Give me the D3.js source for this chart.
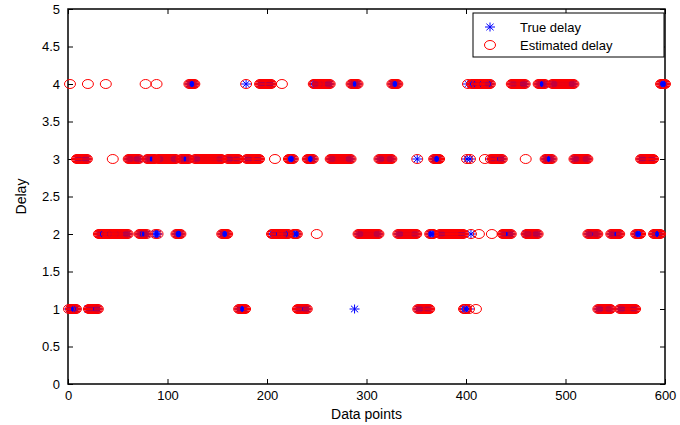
<!DOCTYPE html>
<html>
<head>
<meta charset="utf-8">
<script src="https://cdn.jsdelivr.net/npm/d3@7"></script>
<style>
	body { margin: 0; background: #fff; }
	svg { font-family: "Liberation Sans", Arial, sans-serif; }
</style>
</head>
<body>
<svg id="chart"></svg>
<script>
// true delay: [ first index, last index, delay ]
const trueDelayRuns = [
	[1, 8, 1], [9, 19, 3], [20, 30, 1], [31, 60, 2], [61, 71, 3], [72, 79, 2],
	[80, 87, 3], [88, 90, 2], [91, 108, 3], [109, 113, 2], [114, 121, 3], [122, 127, 4],
	[128, 154, 3], [155, 160, 2], [161, 171, 3], [172, 178, 1], [179, 179, 4], [180, 192, 3],
	[193, 204, 4], [205, 221, 2], [222, 226, 3], [227, 230, 2], [231, 240, 1], [241, 246, 3],
	[247, 263, 4], [264, 284, 3], [285, 287, 4], [288, 288, 1], [289, 291, 4], [292, 312, 2],
	[313, 325, 3], [326, 331, 4], [332, 350, 2], [351, 351, 3], [352, 363, 1], [364, 367, 2],
	[368, 373, 3], [374, 397, 2], [398, 400, 1], [401, 401, 3], [402, 402, 4], [403, 403, 1],
	[404, 404, 3], [405, 405, 2], [406, 424, 4], [425, 436, 3], [437, 445, 2], [446, 459, 4],
	[460, 472, 2], [473, 479, 4], [480, 486, 3], [487, 508, 4], [509, 522, 3], [523, 532, 2],
	[533, 545, 1], [546, 554, 2], [555, 570, 1], [571, 575, 2], [576, 588, 3], [589, 595, 2],
	[596, 600, 4]
] ;

// points where the estimate differs from the true delay: [ index, estimated delay ]
const estimateMisses = [
	[2, 4], [20, 4], [38, 4], [45, 3], [78, 4], [89, 4], [208, 3], [215, 4],
	[250, 2], [288, 4], [410, 1], [413, 2], [419, 3], [426, 2], [460, 3]
] ;

const xTicks = [0, 100, 200, 300, 400, 500, 600] ;
const yTicks = [0, 0.5, 1, 1.5, 2, 2.5, 3, 3.5, 4, 4.5, 5] ;
const legendLabels = ['True delay', 'Estimated delay'] ;

let truePts = [] ;
trueDelayRuns.forEach( r => {
	for( let i = r[0]; i <= r[1]; ++i ) truePts.push( { x: i, y: r[2] } ) ;
} ) ;
let missMap = new Map( estimateMisses ) ;
let estPts = truePts.map( p => ( { x: p.x, y: missMap.has(p.x) ? missMap.get(p.x) : p.y } ) ) ;

const geom = {
	width: 680,
	height: 425,
	margins: { left: 68, right: 15, top: 9, bottom: 41 }
} ;

const x = d3.scaleLinear()
	.domain( [0, 600] )
	.range( [geom.margins.left, geom.width - geom.margins.right] ) ;
const y = d3.scaleLinear()
	.domain( [0, 5] )
	.range( [geom.height - geom.margins.bottom, geom.margins.top] ) ;

const svg = d3.select( '#chart' )
	.attr( 'width', geom.width )
	.attr( 'height', geom.height ) ;

const x0 = x.range()[0], x1 = x.range()[1], y0 = y.range()[0], y1 = y.range()[1] ;

// axes with inward ticks, mirrored on top and right
function styleAxis( g, labels ) {
	g.select( '.domain' ).remove() ;
	g.selectAll( '.tick line' ).attr( 'stroke', '#000' ).attr( 'stroke-width', 1 ) ;
	g.selectAll( 'text' ).attr( 'font-size', 13 ).attr( 'fill', '#000' ) ;
	if( !labels ) g.selectAll( 'text' ).remove() ;
}

svg.append( 'g' )
	.attr( 'transform', 'translate(0 ' + y0 + ')' )
	.call( d3.axisBottom(x).tickValues(xTicks).tickSize(-5).tickPadding(7) )
	.call( g => styleAxis( g, true ) ) ;
svg.append( 'g' )
	.attr( 'transform', 'translate(0 ' + y1 + ')' )
	.call( d3.axisTop(x).tickValues(xTicks).tickSize(-5) )
	.call( g => styleAxis( g, false ) ) ;
svg.append( 'g' )
	.attr( 'transform', 'translate(' + x0 + ' 0)' )
	.call( d3.axisLeft(y).tickValues(yTicks).tickFormat(d3.format('')).tickSize(-5).tickPadding(8) )
	.call( g => styleAxis( g, true ) ) ;
svg.append( 'g' )
	.attr( 'transform', 'translate(' + x1 + ' 0)' )
	.call( d3.axisRight(y).tickValues(yTicks).tickSize(-5) )
	.call( g => styleAxis( g, false ) ) ;

svg.append( 'rect' )
	.attr( 'x', x0 ).attr( 'y', y1 )
	.attr( 'width', x1 - x0 ).attr( 'height', y0 - y1 )
	.attr( 'fill', 'none' ).attr( 'stroke', '#000' ).attr( 'stroke-width', 1.5 ) ;

const star = 'M-5,0H5M0,-4.5V4.5M-3.6,-3.3L3.6,3.3M-3.6,3.3L3.6,-3.3' ;

const plot = svg.append( 'g' ) ;
plot.selectAll( 'path.true' )
	.data( truePts )
	.enter()
	.append( 'path' )
	.attr( 'class', 'true' )
	.attr( 'd', star )
	.attr( 'transform', p => 'translate(' + x(p.x) + ',' + y(p.y) + ')' )
	.attr( 'stroke', '#0000ff' )
	.attr( 'stroke-width', 1 )
	.attr( 'fill', 'none' ) ;

plot.selectAll( 'ellipse.est' )
	.data( estPts )
	.enter()
	.append( 'ellipse' )
	.attr( 'class', 'est' )
	.attr( 'cx', p => x(p.x) )
	.attr( 'cy', p => y(p.y) )
	.attr( 'rx', 5.5 )
	.attr( 'ry', 4.5 )
	.attr( 'stroke', '#ff0000' )
	.attr( 'stroke-width', 1 )
	.attr( 'fill', 'none' ) ;

// legend
const legend = svg.append( 'g' ).attr( 'transform', 'translate(473 13)' ) ;
legend.append( 'rect' )
	.attr( 'width', 191 ).attr( 'height', 44 )
	.attr( 'fill', '#fff' ).attr( 'stroke', '#000' ).attr( 'stroke-width', 1 ) ;
legend.append( 'path' )
	.attr( 'd', star ).attr( 'transform', 'translate(17 14)' )
	.attr( 'stroke', '#0000ff' ).attr( 'fill', 'none' ) ;
legend.append( 'ellipse' )
	.attr( 'cx', 17 ).attr( 'cy', 32 ).attr( 'rx', 5.5 ).attr( 'ry', 4.5 )
	.attr( 'stroke', '#ff0000' ).attr( 'fill', 'none' ) ;
legend.selectAll( 'text' )
	.data( legendLabels )
	.enter()
	.append( 'text' )
	.attr( 'x', 47 )
	.attr( 'y', (d, i) => 18.5 + i * 18 )
	.attr( 'font-size', 13 )
	.text( d => d ) ;

svg.append( 'text' )
	.attr( 'x', (x0 + x1) / 2 )
	.attr( 'y', 419 )
	.attr( 'text-anchor', 'middle' )
	.attr( 'font-size', 14 )
	.text( 'Data points' ) ;
svg.append( 'text' )
	.attr( 'transform', 'translate(26 ' + (y0 + y1) / 2 + ') rotate(-90)' )
	.attr( 'text-anchor', 'middle' )
	.attr( 'font-size', 14 )
	.text( 'Delay' ) ;
</script>
</body>
</html>
